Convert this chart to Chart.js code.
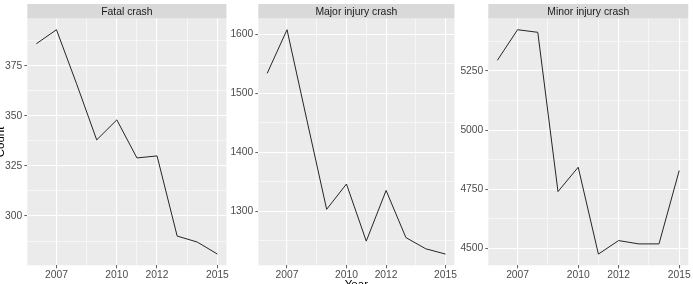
<!DOCTYPE html>
<html lang="en">
<head>
<meta charset="UTF-8" />
<title>Crashes by year</title>
<script src="https://cdn.jsdelivr.net/npm/chart.js"></script>
<style>
  body { margin: 0; background: #ffffff; }
  .wrap { position: relative; width: 693px; height: 284px; overflow: hidden; }
  canvas { position: absolute; top: 0; }
</style>
</head>
<body>
<div class="wrap">
  <canvas id="c1" width="230" height="284" style="left:0px"></canvas>
  <canvas id="c2" width="228" height="284" style="left:230px"></canvas>
  <canvas id="c3" width="235" height="284" style="left:458px"></canvas>
</div>
<script>
  const years = [2006, 2007, 2008, 2009, 2010, 2011, 2012, 2013, 2014, 2015];
  const fatal = [386, 393, 366, 338, 348, 329, 330, 290, 287, 281];
  const major = [1534, 1608, 1455, 1303, 1346, 1249, 1335, 1255, 1236, 1227];
  const minor = [5295, 5424, 5413, 4740, 4843, 4476, 4533, 4519, 4519, 4829];

  const xTicks = [2007, 2010, 2012, 2015];
  const fatalTicks = [300, 325, 350, 375];
  const majorTicks = [1300, 1400, 1500, 1600];
  const minorTicks = [4500, 4750, 5000, 5250];

  const FONT = "'Liberation Sans', Arial, sans-serif";

  function expand(vals) {
    const lo = Math.min(...vals), hi = Math.max(...vals);
    const pad = (hi - lo) * 0.05;
    return [lo - pad, hi + pad];
  }

  // major ticks plus ggplot-style minor lines halfway between
  function withMinor(majors, lo, hi) {
    const out = majors.map(v => ({ value: v }));
    for (let i = 0; i < majors.length - 1; i++) {
      out.push({ value: (majors[i] + majors[i + 1]) / 2, minor: true });
    }
    const s0 = majors[1] - majors[0];
    const s1 = majors[majors.length - 1] - majors[majors.length - 2];
    const before = majors[0] - s0 / 2, after = majors[majors.length - 1] + s1 / 2;
    if (before >= lo) out.push({ value: before, minor: true });
    if (after <= hi) out.push({ value: after, minor: true });
    return out.sort((a, b) => a.value - b.value);
  }

  function makePanel(id, title, values, yTicks, leftW, rightPad, extra) {
    const [ymin, ymax] = expand(values);
    const [xmin, xmax] = expand(years);

    const panelBg = {
      id: "panelBg",
      beforeDraw(chart) {
        const { ctx, chartArea: a } = chart;
        ctx.save();
        ctx.fillStyle = "#EBEBEB";
        ctx.fillRect(a.left, a.top, a.right - a.left, a.bottom - a.top);
        ctx.fillStyle = "#D9D9D9";
        ctx.fillRect(a.left, 4, a.right - a.left, a.top - 4);
        ctx.fillStyle = "#1A1A1A";
        ctx.font = "10.4px " + FONT;
        ctx.textAlign = "center";
        ctx.textBaseline = "middle";
        ctx.fillText(title, (a.left + a.right) / 2, (4 + a.top) / 2 + 0.5);
        if (extra) extra(chart);
        ctx.restore();
      }
    };

    const gridOpts = {
      color: "#FFFFFF",
      lineWidth: c => (c.tick && c.tick.minor ? 0.55 : 1.1),
      tickColor: c => (c.tick && c.tick.minor ? "rgba(0,0,0,0)" : "#333333"),
      tickLength: 3,
      tickWidth: 0.8
    };

    new Chart(document.getElementById(id), {
      type: "line",
      data: {
        labels: years,
        datasets: [{
          data: years.map((y, i) => ({ x: y, y: values[i] })),
          borderColor: "#262626",
          borderWidth: 1,
          pointRadius: 0,
          tension: 0,
          fill: false
        }]
      },
      options: {
        responsive: false,
        animation: false,
        devicePixelRatio: 1,
        layout: { padding: { left: 0, right: rightPad, top: 18.5, bottom: 0 } },
        plugins: { legend: { display: false }, tooltip: { enabled: false } },
        scales: {
          x: {
            type: "linear",
            min: xmin,
            max: xmax,
            border: { display: false },
            grid: gridOpts,
            afterBuildTicks: s => { s.ticks = withMinor(xTicks, xmin, xmax); },
            afterFit: s => { s.height = 18.7; },
            ticks: {
              autoSkip: false,
              maxRotation: 0,
              padding: 1,
              color: "#4D4D4D",
              font: { family: FONT, size: 10.3 },
              callback: (v, i, t) => (t[i].minor ? "" : String(v))
            }
          },
          y: {
            min: ymin,
            max: ymax,
            border: { display: false },
            grid: gridOpts,
            afterBuildTicks: s => { s.ticks = withMinor(yTicks, ymin, ymax); },
            afterFit: s => { s.width = leftW; },
            ticks: {
              autoSkip: false,
              padding: 2,
              color: "#4D4D4D",
              font: { family: FONT, size: 10.3 },
              callback: (v, i, t) => (t[i].minor ? "" : String(v))
            }
          }
        }
      },
      plugins: [panelBg]
    });
  }

  makePanel("c1", "Fatal crash", fatal, fatalTicks, 27.3, 3.3, chart => {
    const { ctx, chartArea: a } = chart;
    ctx.save();
    ctx.translate(1, (a.top + a.bottom) / 2);
    ctx.rotate(-Math.PI / 2);
    ctx.fillStyle = "#000000";
    ctx.font = "11.5px " + FONT;
    ctx.textAlign = "center";
    ctx.textBaseline = "middle";
    ctx.fillText("Count", 0, 0);
    ctx.restore();
  });
  makePanel("c2", "Major injury crash", major, majorTicks, 28.3, 0.3, chart => {
    const { ctx, chartArea: a } = chart;
    ctx.save();
    ctx.fillStyle = "#000000";
    ctx.font = "11.5px " + FONT;
    ctx.textAlign = "center";
    ctx.textBaseline = "top";
    ctx.fillText("Year", (a.left + a.right) / 2, 279.5);
    ctx.restore();
  });
  makePanel("c3", "Minor injury crash", minor, minorTicks, 30.3, 4.7);
</script>
</body>
</html>
